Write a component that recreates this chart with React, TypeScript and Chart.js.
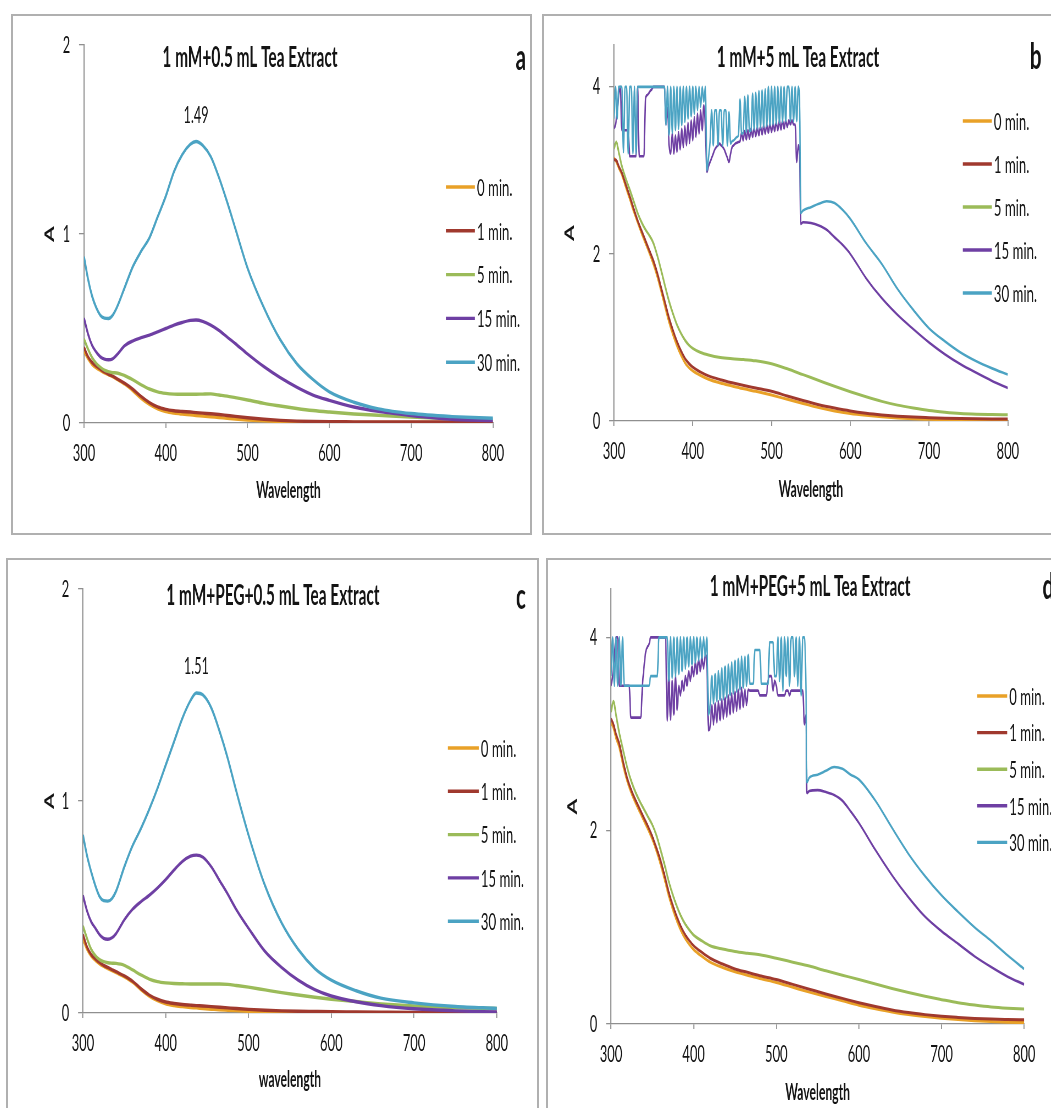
import React, { useEffect, useRef } from "react";
import { Chart, registerables } from "chart.js";
Chart.register(...registerables);

// ---------------- data ----------------
const seriesLabels = ["0 min.", "1 min.", "5 min.", "15 min.", "30 min."];
const seriesColors = ["#E9A127", "#A0392E", "#9BBB59", "#6E3FA3", "#4BA3C3"];

const titleA = "1 mM+0.5 mL Tea Extract";
const titleB = "1 mM+5 mL Tea Extract";
const titleC = "1 mM+PEG+0.5 mL Tea Extract";
const titleD = "1 mM+PEG+5 mL Tea Extract";

const peakA = { wl: 437, text: "1.49" };
const peakC = { wl: 437, text: "1.51" };

// wavelengths for panels a and c
const wlAC = [300, 305, 310, 315, 320, 325, 330, 335, 340, 350, 360, 370, 380, 390, 400, 410, 420, 430, 437, 445, 455, 465, 475, 485, 500, 520, 540, 560, 580, 600, 630, 660, 700, 750, 800];

const a0 = [0.38, 0.34, 0.31, 0.292, 0.278, 0.265, 0.255, 0.245, 0.232, 0.205, 0.17, 0.13, 0.098, 0.075, 0.06, 0.052, 0.047, 0.043, 0.04, 0.037, 0.033, 0.029, 0.025, 0.021, 0.016, 0.011, 0.008, 0.006, 0.005, 0.004, 0.003, 0.003, 0.003, 0.003, 0.003];
const a1 = [0.4, 0.35, 0.32, 0.3, 0.285, 0.27, 0.258, 0.248, 0.235, 0.21, 0.178, 0.14, 0.108, 0.085, 0.072, 0.065, 0.061, 0.058, 0.055, 0.052, 0.049, 0.045, 0.04, 0.035, 0.028, 0.02, 0.014, 0.01, 0.008, 0.007, 0.006, 0.005, 0.005, 0.005, 0.005];
const a5 = [0.445, 0.39, 0.345, 0.315, 0.295, 0.28, 0.272, 0.266, 0.265, 0.25, 0.228, 0.202, 0.18, 0.165, 0.157, 0.153, 0.152, 0.152, 0.152, 0.153, 0.154, 0.148, 0.142, 0.134, 0.122, 0.104, 0.09, 0.077, 0.066, 0.058, 0.048, 0.041, 0.031, 0.022, 0.018];
const a15 = [0.555, 0.47, 0.41, 0.375, 0.35, 0.338, 0.335, 0.34, 0.36, 0.41, 0.435, 0.452, 0.465, 0.482, 0.5, 0.518, 0.532, 0.543, 0.545, 0.538, 0.518, 0.49, 0.455, 0.42, 0.365, 0.298, 0.24, 0.19, 0.148, 0.12, 0.085, 0.062, 0.04, 0.02, 0.013];
const a30 = [0.88, 0.76, 0.67, 0.61, 0.57, 0.555, 0.553, 0.57, 0.61, 0.72, 0.83, 0.91, 0.98, 1.09, 1.2, 1.33, 1.42, 1.475, 1.49, 1.47, 1.41, 1.3, 1.17, 1.03, 0.82, 0.61, 0.44, 0.315, 0.23, 0.165, 0.11, 0.075, 0.05, 0.034, 0.025];

const c0 = [0.35, 0.3, 0.268, 0.248, 0.232, 0.22, 0.21, 0.2, 0.19, 0.17, 0.145, 0.11, 0.08, 0.058, 0.043, 0.035, 0.03, 0.026, 0.024, 0.021, 0.018, 0.015, 0.013, 0.011, 0.008, 0.006, 0.004, 0.003, 0.002, 0.002, 0.001, 0.001, 0.001, 0.001, 0.001];
const c1 = [0.37, 0.31, 0.275, 0.255, 0.238, 0.225, 0.215, 0.205, 0.195, 0.175, 0.15, 0.115, 0.085, 0.065, 0.052, 0.045, 0.04, 0.037, 0.035, 0.033, 0.03, 0.027, 0.024, 0.021, 0.017, 0.013, 0.01, 0.008, 0.007, 0.006, 0.005, 0.004, 0.003, 0.003, 0.003];
const c5 = [0.41, 0.35, 0.3, 0.27, 0.252, 0.242, 0.237, 0.235, 0.234, 0.225, 0.203, 0.18, 0.16, 0.148, 0.142, 0.139, 0.138, 0.137, 0.137, 0.137, 0.137, 0.137, 0.135, 0.13, 0.122, 0.109, 0.096, 0.085, 0.074, 0.065, 0.054, 0.043, 0.033, 0.025, 0.021];
const c15 = [0.555, 0.48, 0.43, 0.4, 0.37, 0.352, 0.348, 0.355, 0.375, 0.44, 0.49, 0.525, 0.555, 0.59, 0.63, 0.675, 0.715, 0.74, 0.745, 0.735, 0.69, 0.625, 0.56, 0.49, 0.4, 0.29, 0.215, 0.155, 0.11, 0.08, 0.053, 0.035, 0.02, 0.01, 0.005];
const c30 = [0.84, 0.74, 0.665, 0.6, 0.55, 0.53, 0.528, 0.54, 0.575, 0.69, 0.79, 0.87, 0.96, 1.06, 1.17, 1.28, 1.39, 1.475, 1.51, 1.5, 1.44, 1.33, 1.2, 1.05, 0.84, 0.6, 0.425, 0.3, 0.21, 0.155, 0.105, 0.07, 0.048, 0.031, 0.022];

// wavelengths for the smooth curves of panels b and d
const wlBD = [300, 303, 306, 310, 315, 320, 325, 330, 335, 340, 345, 350, 355, 360, 365, 370, 375, 380, 385, 390, 395, 400, 410, 420, 435, 450, 465, 480, 500, 520, 540, 560, 580, 600, 620, 640, 660, 680, 700, 720, 740, 760, 780, 800];

const b0 = [3.15, 3.1, 3.03, 2.95, 2.8, 2.66, 2.51, 2.38, 2.25, 2.13, 2.01, 1.88, 1.73, 1.55, 1.36, 1.18, 1.03, 0.9, 0.79, 0.7, 0.64, 0.6, 0.545, 0.5, 0.455, 0.42, 0.385, 0.355, 0.31, 0.26, 0.21, 0.16, 0.12, 0.09, 0.068, 0.05, 0.036, 0.026, 0.02, 0.015, 0.01, 0.008, 0.006, 0.005];
const b1 = [3.13, 3.12, 3.05, 2.97, 2.83, 2.69, 2.54, 2.4, 2.28, 2.16, 2.04, 1.92, 1.77, 1.59, 1.41, 1.23, 1.08, 0.95, 0.84, 0.75, 0.69, 0.645, 0.585, 0.54, 0.495, 0.458, 0.425, 0.395, 0.355, 0.3, 0.245, 0.195, 0.155, 0.12, 0.093, 0.073, 0.058, 0.047, 0.04, 0.034, 0.03, 0.027, 0.025, 0.024];
const b5 = [3.26, 3.34, 3.22, 3.05, 2.9, 2.77, 2.63, 2.49, 2.38, 2.29, 2.22, 2.13, 1.98, 1.8, 1.61, 1.43, 1.28, 1.15, 1.05, 0.97, 0.91, 0.87, 0.82, 0.79, 0.76, 0.745, 0.735, 0.72, 0.685, 0.625, 0.555, 0.485, 0.415, 0.35, 0.29, 0.235, 0.19, 0.155, 0.125, 0.105, 0.09, 0.082, 0.078, 0.075];

const d0 = [3.12, 3.06, 2.96, 2.86, 2.66, 2.5, 2.38, 2.28, 2.19, 2.1, 2.01, 1.91, 1.79, 1.65, 1.49, 1.32, 1.18, 1.06, 0.96, 0.88, 0.82, 0.77, 0.7, 0.64, 0.585, 0.54, 0.505, 0.47, 0.43, 0.38, 0.33, 0.285, 0.24, 0.195, 0.158, 0.125, 0.098, 0.077, 0.06, 0.046, 0.034, 0.025, 0.019, 0.015];
const d1 = [3.16, 3.1, 3.0, 2.9, 2.7, 2.53, 2.41, 2.31, 2.22, 2.13, 2.04, 1.94, 1.82, 1.69, 1.53, 1.36, 1.22, 1.1, 1.0, 0.92, 0.86, 0.81, 0.74, 0.68, 0.62, 0.57, 0.535, 0.5, 0.46, 0.41, 0.36, 0.31, 0.265, 0.22, 0.18, 0.145, 0.118, 0.097, 0.08, 0.068, 0.058, 0.051, 0.047, 0.044];
const d5 = [3.23, 3.34, 3.2, 3.01, 2.82, 2.64, 2.5, 2.39, 2.3, 2.22, 2.14, 2.06, 1.95, 1.8, 1.64, 1.47, 1.33, 1.21, 1.11, 1.03, 0.97, 0.92, 0.86, 0.81, 0.775, 0.75, 0.732, 0.716, 0.68, 0.64, 0.6, 0.55, 0.505, 0.46, 0.413, 0.367, 0.325, 0.286, 0.252, 0.22, 0.196, 0.176, 0.163, 0.154];

// saturated (noisy) part of the 15 and 30 min scans, 300-536 nm
const wlNoise = [
  300, 302, 304, 306, 308, 310, 312, 314, 316, 318,
  320, 322, 324, 326, 328, 330, 332, 334, 336, 338,
  340, 342, 344, 346, 348, 350, 352, 354, 356, 358,
  360, 362, 364, 366, 368, 370, 372, 374, 376, 378,
  380, 382, 384, 386, 388, 390, 392, 394, 396, 398,
  400, 402, 404, 406, 408, 410, 412, 414, 416, 418,
  420, 422, 424, 426, 428, 430, 432, 434, 436, 438,
  440, 442, 444, 446, 448, 450, 452, 454, 456, 458,
  460, 462, 464, 466, 468, 470, 472, 474, 476, 478,
  480, 482, 484, 486, 488, 490, 492, 494, 496, 498,
  500, 502, 504, 506, 508, 510, 512, 514, 516, 518,
  520, 522, 524, 526, 528, 530, 532, 534, 536,
];
const b15Noise = [
  3.5, 3.55, 3.7, 3.9, 4, 3.48, 3.48, 3.48, 3.48, 3.48,
  3.17, 3.17, 3.17, 3.17, 3.17, 4, 3.17, 3.17, 3.17, 3.17,
  3.85, 3.9, 3.92, 3.95, 3.97, 4, 4, 4, 4, 4,
  4, 4, 4, 3.55, 3.75, 3.3, 3.2, 3.45, 3.2, 3.42,
  3.22, 3.46, 3.25, 3.5, 3.28, 3.53, 3.3, 3.57, 3.33, 3.6,
  3.36, 3.64, 3.4, 3.68, 3.44, 3.72, 3.48, 3.78, 3.52, 2.98,
  3.05, 3.1, 3.15, 3.2, 3.25, 3.28, 3.3, 3.32, 3.3, 3.28,
  3.25, 3.2, 3.15, 3.1, 3.2, 3.28, 3.3, 3.32, 3.33, 3.34,
  3.35, 3.45, 3.36, 3.47, 3.37, 3.48, 3.38, 3.5, 3.4, 3.51,
  3.41, 3.52, 3.42, 3.53, 3.43, 3.54, 3.44, 3.55, 3.45, 3.56,
  3.46, 3.57, 3.47, 3.58, 3.48, 3.6, 3.49, 3.6, 3.5, 3.6,
  3.52, 3.6, 3.55, 3.6, 3.55, 3.55, 3.1, 3.3, 3.08,
];
const b30Noise = [
  3.62, 4, 3.62, 4, 4, 4, 3.22, 4, 4, 3.2,
  4, 4, 3.2, 4, 3.2, 4, 4, 4, 4, 4,
  4, 4, 4, 4, 4, 4, 4, 4, 4, 4,
  4, 4, 4, 3.55, 4, 3.42, 4, 3.45, 4, 3.48,
  4, 3.5, 4, 3.54, 4, 3.58, 4, 3.62, 4, 3.65,
  4, 3.68, 4, 3.72, 4, 3.76, 4, 3.82, 4, 3.0,
  3.15, 3.35, 3.72, 3.3, 3.72, 3.72, 3.3, 3.72, 3.72, 3.3,
  3.72, 3.72, 3.3, 3.7, 3.32, 3.35, 3.36, 3.38, 3.4, 3.42,
  3.85, 3.44, 3.45, 3.88, 3.46, 3.9, 3.47, 3.48, 3.92, 3.49,
  3.93, 3.5, 3.95, 3.51, 3.96, 3.52, 3.97, 3.53, 4, 3.54,
  4, 3.55, 4, 3.56, 4, 3.57, 4, 3.58, 4, 3.59,
  4, 4, 3.59, 4, 3.59, 4, 3.59, 4, 3.59,
];
const d15Noise = [
  3.5, 3.6, 3.8, 4, 4, 3.5, 3.5, 3.5, 3.5, 3.5,
  3.5, 3.5, 3.17, 3.17, 3.17, 3.17, 3.17, 3.17, 3.17, 3.5,
  3.7, 3.85, 3.9, 3.93, 4, 4, 4, 4, 4, 4,
  4, 4, 4, 4, 3.14, 3.6, 3.15, 3.55, 3.2, 3.6,
  3.25, 3.5, 3.4, 3.55, 3.45, 3.6, 3.5, 3.65, 3.55, 3.7,
  3.6, 3.75, 3.62, 3.78, 3.65, 3.8, 3.68, 3.82, 3.7, 3.04,
  3.08, 3.3, 3.1, 3.32, 3.12, 3.34, 3.14, 3.36, 3.16, 3.38,
  3.18, 3.4, 3.2, 3.42, 3.22, 3.44, 3.24, 3.46, 3.26, 3.48,
  3.28, 3.46, 3.3, 3.46, 3.45, 3.45, 3.45, 3.45, 3.45, 3.45,
  3.4, 3.4, 3.4, 3.4, 3.4, 3.55, 3.6, 3.6, 3.45, 3.55,
  3.5, 3.4, 3.4, 3.4, 3.4, 3.4, 3.45, 3.45, 3.4, 3.45,
  3.45, 3.45, 3.45, 3.45, 3.45, 3.45, 3.45, 3.1, 3.2,
];
const d30Noise = [
  3.6, 4, 3.5, 4, 3.5, 4, 3.5, 4, 3.5, 3.5,
  3.5, 3.5, 3.5, 3.5, 3.5, 3.5, 3.5, 3.5, 3.5, 3.5,
  3.5, 3.5, 3.5, 3.5, 3.6, 3.6, 3.6, 3.6, 3.6, 4,
  4, 4, 4, 4, 4, 3.55, 4, 3.58, 4, 3.6,
  4, 3.62, 4, 3.65, 4, 3.68, 4, 3.7, 4, 3.72,
  4, 3.74, 4, 3.76, 4, 3.78, 4, 3.8, 4, 3.2,
  3.3, 3.6, 3.32, 3.62, 3.34, 3.65, 3.35, 3.68, 3.36, 3.7,
  3.38, 3.72, 3.4, 3.74, 3.42, 3.76, 3.44, 3.78, 3.46, 3.8,
  3.48, 3.8, 3.5, 3.82, 3.52, 3.52, 3.52, 3.87, 3.87, 3.87,
  3.87, 3.52, 3.52, 3.52, 3.52, 3.52, 3.95, 3.95, 3.95, 3.6,
  3.6, 4, 3.55, 4, 3.45, 4, 3.6, 4, 3.5, 4,
  4, 3.6, 4, 3.5, 4, 3.4, 4, 4, 3.4,
];

// smooth tail of the 15 and 30 min scans, 537-800 nm
const wlTail = [537, 540, 550, 560, 570, 580, 590, 600, 620, 640, 660, 680, 700, 720, 740, 760, 780, 800];
const b15Tail = [2.36, 2.38, 2.37, 2.34, 2.29, 2.2, 2.11, 2.0, 1.71, 1.47, 1.27, 1.1, 0.94, 0.8, 0.68, 0.577, 0.48, 0.394];
const b30Tail = [2.49, 2.52, 2.56, 2.6, 2.63, 2.61, 2.53, 2.42, 2.13, 1.88, 1.58, 1.33, 1.11, 0.955, 0.82, 0.715, 0.63, 0.556];
const d15Tail = [2.39, 2.41, 2.42, 2.4, 2.37, 2.31, 2.2, 2.08, 1.8, 1.54, 1.31, 1.11, 0.96, 0.83, 0.7, 0.59, 0.49, 0.41];
const d30Tail = [2.5, 2.55, 2.58, 2.62, 2.66, 2.64, 2.58, 2.53, 2.31, 2.03, 1.76, 1.53, 1.33, 1.16, 1.0, 0.86, 0.71, 0.57];

// ---------------- style ----------------
const S = 0.55; // horizontal squeeze of the original figure
const FONT = "Lato, 'Noto Sans', sans-serif";
const TEXT = "#141414";
const AXIS = "#8f8f8f";
const TICK_SIZE = 23.5;
const AX_TITLE_SIZE = 22;
const LEGEND_SIZE = 24;
const TITLE_SIZE = 28;
const LETTER_SIZE = 37;
const PEAK_SIZE = 23;

type Series = { x: number[]; y: number[] };
type PanelDef = {
  key: string;
  title: string;
  letter: string;
  xTitle: string;
  yMax: number;
  yStep: number;
  series: Series[];
  peak?: { wl: number; text: string };
  frame: [number, number, number, number];
  canvas: [number, number, number, number];
  area: [number, number, number, number]; // left, right, top, bottom (page px)
  yTitleX: number;
  xTitleY: number;
  titleXY: [number, number];
  letterXY: [number, number];
  legend: { x0: number; x1: number; tx: number; y0: number; dy: number };
  lw: number;
  lwNoise: number;
};

const panels: PanelDef[] = [
  {
    key: "a", title: titleA, letter: "a", xTitle: "Wavelength", yMax: 2, yStep: 1,
    series: [a0, a1, a5, a15, a30].map((y) => ({ x: wlAC, y })),
    peak: peakA,
    frame: [11, 14, 521, 521], canvas: [12, 15, 518, 518],
    area: [84, 493, 39, 423], yTitleX: 50, xTitleY: 491,
    titleXY: [250, 58], letterXY: [521, 58],
    legend: { x0: 446, x1: 475, tx: 477, y0: 187, dy: 43.8 }, lw: 3.4, lwNoise: 3.4,
  },
  {
    key: "b", title: titleB, letter: "b", xTitle: "Wavelength", yMax: 4.5, yStep: 2,
    series: [
      { x: wlBD, y: b0 }, { x: wlBD, y: b1 }, { x: wlBD, y: b5 },
      { x: wlNoise.concat(wlTail), y: b15Noise.concat(b15Tail) },
      { x: wlNoise.concat(wlTail), y: b30Noise.concat(b30Tail) },
    ],
    frame: [542, 14, 530, 521], canvas: [543, 15, 508, 518],
    area: [614, 1008, 39.6, 421], yTitleX: 570, xTitleY: 490,
    titleXY: [798, 58], letterXY: [1036, 57],
    legend: { x0: 963, x1: 992, tx: 994, y0: 121, dy: 43 }, lw: 3, lwNoise: 2.6,
  },
  {
    key: "c", title: titleC, letter: "c", xTitle: "wavelength", yMax: 2, yStep: 1,
    series: [c0, c1, c5, c15, c30].map((y) => ({ x: wlAC, y })),
    peak: peakC,
    frame: [6, 558, 533, 570], canvas: [7, 559, 530, 549],
    area: [83, 497, 582, 1013], yTitleX: 50, xTitleY: 1080,
    titleXY: [273, 596], letterXY: [521, 597],
    legend: { x0: 448, x1: 479, tx: 481, y0: 748, dy: 43.3 }, lw: 3.4, lwNoise: 3.4,
  },
  {
    key: "d", title: titleD, letter: "d", xTitle: "Wavelength", yMax: 4.5, yStep: 2,
    series: [
      { x: wlBD, y: d0 }, { x: wlBD, y: d1 }, { x: wlBD, y: d5 },
      { x: wlNoise.concat(wlTail), y: d15Noise.concat(d15Tail) },
      { x: wlNoise.concat(wlTail), y: d30Noise.concat(d30Tail) },
    ],
    frame: [546, 558, 530, 570], canvas: [547, 559, 504, 549],
    area: [611, 1024, 572, 1024], yTitleX: 573, xTitleY: 1093,
    titleXY: [810, 587], letterXY: [1048, 587],
    legend: { x0: 977, x1: 1007, tx: 1009, y0: 696, dy: 36.6 }, lw: 3, lwNoise: 2.6,
  },
];

function PanelChart({ p }: { p: PanelDef }) {
  const ref = useRef<HTMLCanvasElement>(null);
  const [cl, ct, cw, ch] = p.canvas;
  const W = Math.round(cw / S);

  useEffect(() => {
    if (!ref.current) return;
    const cx = (px: number) => (px - cl) / S;
    const cy = (py: number) => py - ct;
    const titleLH = AX_TITLE_SIZE * 1.2;
    const padL = cx(p.yTitleX) - titleLH / 2;
    const Wy = cx(p.area[0]) - padL;
    const padR = W - cx(p.area[1]);
    const padT = cy(p.area[2]);
    const Hx = cy(p.xTitleY) + titleLH / 2 - cy(p.area[3]);
    const padB = ch - cy(p.area[3]) - Hx;

    const decor = {
      id: "decor" + p.key,
      afterDraw(chart: any) {
        const ctx = chart.ctx as CanvasRenderingContext2D;
        ctx.save();
        ctx.fillStyle = TEXT;
        ctx.textBaseline = "middle";
        ctx.textAlign = "center";
        ctx.font = `bold ${TITLE_SIZE}px ${FONT}`;
        ctx.fillText(p.title, cx(p.titleXY[0]), cy(p.titleXY[1]));
        ctx.font = `bold ${LETTER_SIZE}px ${FONT}`;
        ctx.fillText(p.letter, cx(p.letterXY[0]), cy(p.letterXY[1]));
        if (p.peak) {
          const s = p.series[4];
          const idx = s.x.indexOf(p.peak.wl);
          const xs = chart.scales.x;
          const ys = chart.scales.y;
          ctx.font = `${PEAK_SIZE}px ${FONT}`;
          ctx.fillText(p.peak.text, xs.getPixelForValue(p.peak.wl), ys.getPixelForValue(s.y[idx]) - 26);
        }
        ctx.textAlign = "left";
        ctx.font = `${LEGEND_SIZE}px ${FONT}`;
        chart.data.datasets.forEach((ds: any, i: number) => {
          const y = cy(p.legend.y0 + i * p.legend.dy);
          ctx.strokeStyle = ds.borderColor;
          ctx.lineWidth = 3.4;
          ctx.beginPath();
          ctx.moveTo(cx(p.legend.x0), y);
          ctx.lineTo(cx(p.legend.x1), y);
          ctx.stroke();
          ctx.fillText(ds.label, cx(p.legend.tx), y + 1);
        });
        ctx.restore();
      },
    };

    const chart = new Chart(ref.current, {
      type: "line",
      data: {
        datasets: p.series.map((s, i) => ({
          label: seriesLabels[i],
          data: s.x.map((x, j) => ({ x, y: s.y[j] })),
          borderColor: seriesColors[i],
          backgroundColor: seriesColors[i],
          borderWidth: i >= 3 ? p.lwNoise : p.lw,
          pointRadius: 0,
          fill: false,
          cubicInterpolationMode: "monotone",
          order: 5 - i,
        })),
      },
      options: {
        responsive: false,
        animation: false,
        events: [],
        layout: { padding: { left: padL, right: padR, top: padT, bottom: padB } },
        plugins: { legend: { display: false }, tooltip: { enabled: false } },
        scales: {
          x: {
            type: "linear",
            min: 300,
            max: 800,
            ticks: { stepSize: 100, color: TEXT, font: { family: FONT, size: TICK_SIZE }, padding: 11, maxRotation: 0, autoSkip: false },
            grid: { drawOnChartArea: false, drawTicks: true, tickLength: 5, color: AXIS, lineWidth: 1.8 },
            border: { display: true, color: AXIS, width: 1.3 },
            title: { display: true, text: p.xTitle, color: TEXT, font: { family: FONT, size: AX_TITLE_SIZE, weight: "bold" }, padding: 0 },
            afterFit: (scale: any) => { scale.height = Hx; },
          },
          y: {
            type: "linear",
            min: 0,
            max: p.yMax,
            ticks: { stepSize: p.yStep, includeBounds: false, color: TEXT, font: { family: FONT, size: TICK_SIZE }, padding: 16, },
            grid: { drawOnChartArea: false, drawTicks: true, tickLength: 9, color: AXIS, lineWidth: 1.3 },
            border: { display: true, color: AXIS, width: 2 },
            title: { display: true, text: "A", color: TEXT, font: { family: FONT, size: AX_TITLE_SIZE, weight: "bold" }, padding: 0 },
            afterFit: (scale: any) => { scale.width = Wy; },
          },
        },
      } as any,
      plugins: [decor],
    });
    return () => chart.destroy();
  }, []);

  return (
    <canvas
      ref={ref}
      width={W}
      height={ch}
      style={{ position: "absolute", left: cl, top: ct, width: cw, height: ch }}
    />
  );
}

export default function App() {
  return (
    <div
      style={{
        position: "absolute",
        left: 0,
        top: 0,
        width: 1051,
        height: 1108,
        overflow: "hidden",
        background: "#ffffff",
      }}
    >
      {panels.map((p) => (
        <div
          key={"f" + p.key}
          style={{
            position: "absolute",
            left: p.frame[0],
            top: p.frame[1],
            width: p.frame[2],
            height: p.frame[3],
            border: "2px solid #b0b0b0",
            boxSizing: "border-box",
          }}
        />
      ))}
      {panels.map((p) => (
        <PanelChart key={p.key} p={p} />
      ))}
    </div>
  );
}
